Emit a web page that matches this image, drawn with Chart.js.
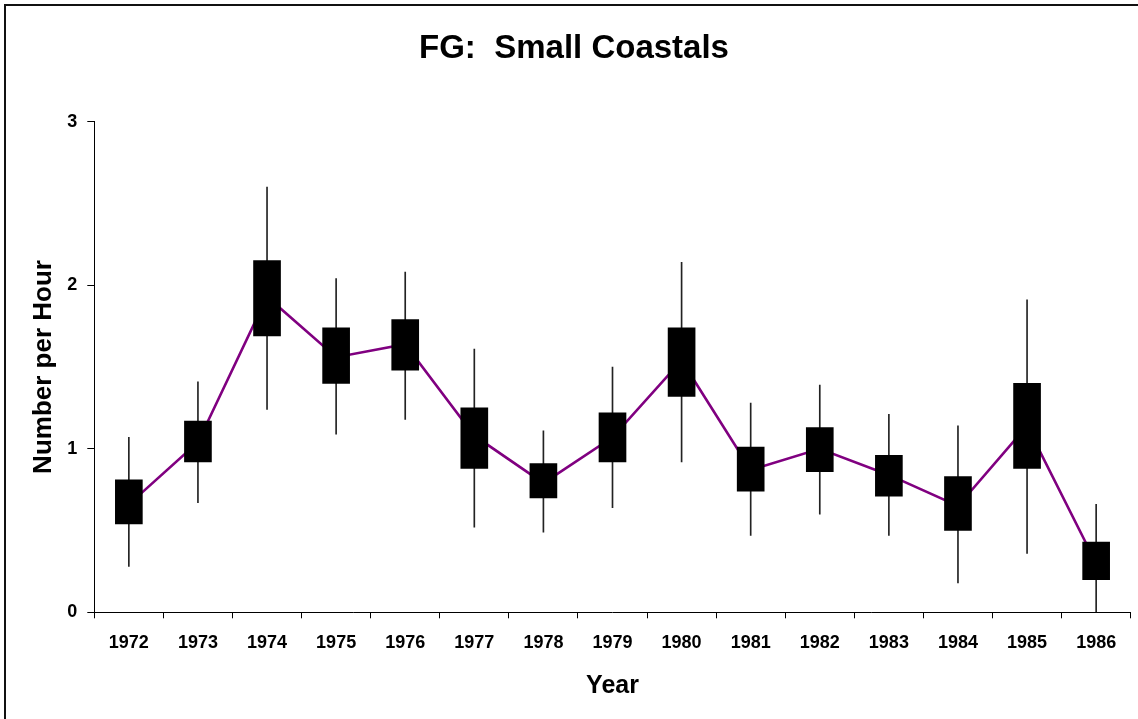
<!DOCTYPE html>
<html>
<head>
<meta charset="utf-8">
<title>FG: Small Coastals</title>
<script src="https://cdn.jsdelivr.net/npm/chart.js@4.4.1/dist/chart.umd.min.js"></script>
<style>
  html, body { margin: 0; padding: 0; background: #fff; }
  #wrap { position: relative; width: 1138px; height: 719px; overflow: hidden; }
  #frame { position: absolute; left: 4px; top: 4px; right: -4px; bottom: -4px;
           border-top: 2px solid #111; border-left: 2px solid #111; }
  #c { position: absolute; left: 0; top: 0; }
</style>
</head>
<body>
<div id="wrap">
  <div id="frame"></div>
  <canvas id="c" width="1138" height="719"></canvas>
</div>
<script>
// Survey years
const years = ['1972', '1973', '1974', '1975', '1976', '1977', '1978', '1979',
               '1980', '1981', '1982', '1983', '1984', '1985', '1986'];

// Mean catch rate (number per hour)
const meanRate = [0.66, 1.04, 1.93, 1.56, 1.64, 1.08, 0.79, 1.07,
                  1.54, 0.87, 1.00, 0.84, 0.65, 1.14, 0.30];

// Box: lower and upper bounds
const boxLow  = [0.54, 0.92, 1.69, 1.40, 1.48, 0.88, 0.70, 0.92,
                 1.32, 0.74, 0.86, 0.71, 0.50, 0.88, 0.20];
const boxHigh = [0.81, 1.17, 2.15, 1.74, 1.79, 1.25, 0.91, 1.22,
                 1.74, 1.01, 1.13, 0.96, 0.83, 1.40, 0.43];

// Whiskers: lower and upper limits
const whiskerLow  = [0.28, 0.67, 1.24, 1.09, 1.18, 0.52, 0.49, 0.64,
                     0.92, 0.47, 0.60, 0.47, 0.18, 0.36, 0.00];
const whiskerHigh = [1.07, 1.41, 2.60, 2.04, 2.08, 1.61, 1.11, 1.50,
                     2.14, 1.28, 1.39, 1.21, 1.14, 1.91, 0.66];

// Y axis ticks
const yTicks = [0, 1, 2, 3];

const FONT = "'Liberation Sans', Arial, Helvetica, sans-serif";
Chart.defaults.font.family = FONT;
Chart.defaults.color = '#000';

const boxes    = years.map((_, i) => [boxLow[i], boxHigh[i]]);
const whiskers = years.map((_, i) => [whiskerLow[i], whiskerHigh[i]]);

new Chart(document.getElementById('c'), {
  type: 'bar',
  data: {
    labels: years,
    datasets: [
      {
        type: 'bar',
        label: 'Range',
        data: whiskers,
        backgroundColor: '#222',
        barThickness: 1,
        grouped: false,
        order: 2
      },
      {
        type: 'line',
        label: 'Mean',
        data: meanRate,
        borderColor: '#800080',
        borderWidth: 2.6,
        pointRadius: 0,
        tension: 0,
        fill: false,
        order: 1
      },
      {
        type: 'bar',
        label: 'Box',
        data: boxes,
        backgroundColor: '#000',
        barThickness: 27,
        grouped: false,
        order: 0
      }
    ]
  },
  options: {
    responsive: false,
    animation: false,
    devicePixelRatio: 1,
    layout: { padding: { top: 0, left: 17.3, right: 7.3, bottom: 0 } },
    plugins: {
      legend: { display: false },
      tooltip: { enabled: false },
      title: {
        display: true,
        text: 'FG:  Small Coastals',
        color: '#000',
        font: { family: FONT, size: 33, weight: 'bold', lineHeight: 1.2 },
        padding: { top: 29, bottom: 53.1 }
      }
    },
    scales: {
      x: {
        type: 'category',
        offset: true,
        grid: {
          display: true,
          offset: true,
          drawOnChartArea: false,
          drawTicks: true,
          tickLength: 6,
          color: '#000',
          lineWidth: 1
        },
        border: { display: true, color: '#000', width: 1 },
        ticks: {
          color: '#000',
          padding: 14,
          maxRotation: 0,
          autoSkip: false,
          font: { family: FONT, size: 18, weight: 'bold' }
        },
        title: {
          display: true,
          text: 'Year',
          color: '#000',
          font: { family: FONT, size: 25, weight: 'bold', lineHeight: 1.2 },
          padding: { top: 0, bottom: 18 }
        },
        afterFit: (s) => { s.height = 719 - 612.3; }
      },
      y: {
        min: 0,
        max: 3,
        afterBuildTicks: (s) => { s.ticks = yTicks.map(v => ({ value: v })); },
        grid: {
          display: true,
          drawOnChartArea: false,
          drawTicks: true,
          tickLength: 7,
          color: '#000',
          lineWidth: 1
        },
        border: { display: true, color: '#000', width: 1 },
        ticks: {
          color: '#000',
          padding: 10,
          font: { family: FONT, size: 18, weight: 'bold' }
        },
        title: {
          display: true,
          text: 'Number per Hour',
          color: '#000',
          font: { family: FONT, size: 26, weight: 'bold', lineHeight: 1.2 },
          padding: { top: 11.1, bottom: 0 }
        },
        afterFit: (s) => { s.width = 77; }
      }
    }
  }
});
</script>
</body>
</html>
